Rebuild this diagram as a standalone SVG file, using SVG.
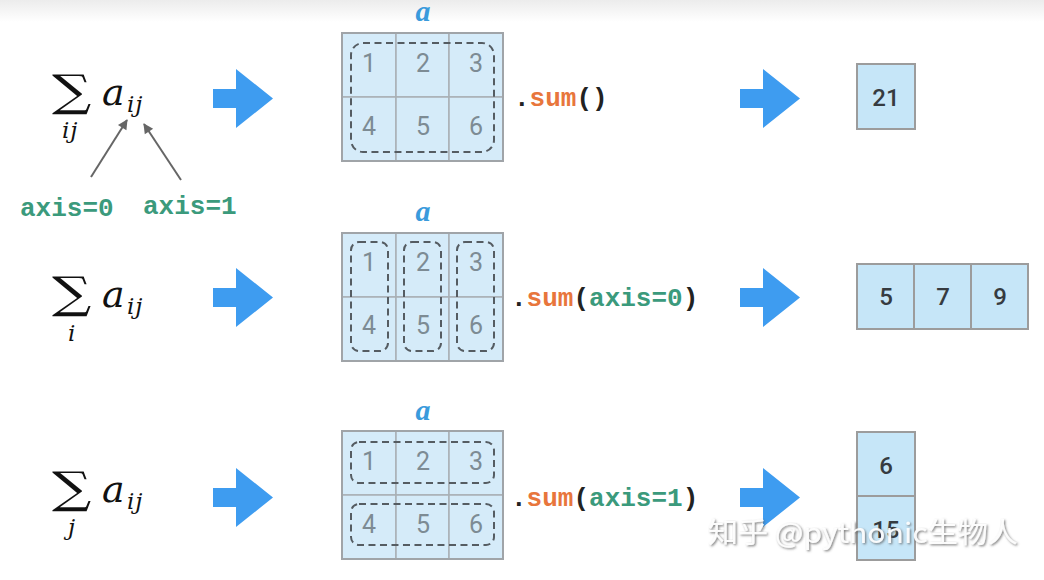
<svg xmlns="http://www.w3.org/2000/svg" width="1044" height="580" viewBox="0 0 1044 580">
<defs>
<linearGradient id="topbg" x1="0" y1="0" x2="0" y2="1">
<stop offset="0" stop-color="#ececec"/>
<stop offset="1" stop-color="#ffffff"/>
</linearGradient>
<marker id="ah" viewBox="0 0 10 10" refX="9" refY="5" markerWidth="11" markerHeight="10" markerUnits="userSpaceOnUse" orient="auto" overflow="visible">
<path d="M0,0 L10,5 L0,10 z" fill="#666"/>
</marker>
<filter id="wshadow" x="-5%" y="-20%" width="110%" height="150%">
<feDropShadow dx="1.2" dy="1.2" stdDeviation="0.8" flood-color="#555" flood-opacity="0.85"/>
</filter>
</defs>
<style>
.sig{font-family:"DejaVu Serif","Liberation Serif",serif;font-size:44px;fill:#111}
.ma{font-family:"DejaVu Serif","Liberation Serif",serif;font-style:italic;font-size:38px;fill:#111}
.ms{font-family:"DejaVu Serif","Liberation Serif",serif;font-style:italic;font-size:23px;fill:#111}
.code{font-family:"Liberation Mono","DejaVu Sans Mono",monospace;font-weight:bold;font-size:26px;fill:#222}
.or{fill:#e8763c}
.gr{fill:#3b9a7c}
.lbl{font-family:"Liberation Serif","DejaVu Serif",serif;font-style:italic;font-weight:bold;font-size:30px;fill:#3a9bdc;text-anchor:middle}
.cell{fill:#d5ebf9;stroke:#a9b0b5;stroke-width:1.5}
.gd{font-family:Roboto,"Liberation Sans",sans-serif;font-size:25px;fill:#7d8b94;text-anchor:middle}
.dash{fill:none;stroke:#555c62;stroke-width:2;stroke-dasharray:7 4.5}
.res{fill:#c6e6f8;stroke:#9c9c9c;stroke-width:2}
.rt{font-family:Roboto,"Liberation Sans",sans-serif;font-weight:500;font-size:24px;fill:#363b40;text-anchor:middle}
.bar{fill:#3e9cf0}
.ptr{stroke:#666;stroke-width:2;fill:none}
.wm{font-family:"Noto Sans CJK SC","Noto Sans",sans-serif;font-size:28px;fill:#ffffff;fill-opacity:0.92}
</style>
<rect x="0" y="0" width="1044" height="580" fill="#ffffff"/>
<rect x="0" y="0" width="1044" height="22" fill="url(#topbg)"/>

<g id="formula1">
<text class="sig" transform="translate(52,106) scale(1.25,1)">∑</text>
<text class="ma" x="102" y="105">a</text>
<text class="ms" x="127" y="112" letter-spacing="1">ij</text>
<text class="ms" x="62" y="138" letter-spacing="1">ij</text>
</g>
<g id="formula2">
<text class="sig" transform="translate(52,308) scale(1.25,1)">∑</text>
<text class="ma" x="102" y="307">a</text>
<text class="ms" x="127" y="314" letter-spacing="1">ij</text>
<text class="ms" x="68" y="341">i</text>
</g>
<g id="formula3">
<text class="sig" transform="translate(52,503) scale(1.25,1)">∑</text>
<text class="ma" x="102" y="502">a</text>
<text class="ms" x="127" y="509" letter-spacing="1">ij</text>
<text class="ms" x="68" y="535">j</text>
</g>

<g id="axis-labels">
<text class="code gr" x="20" y="216">axis=0</text>
<text class="code gr" x="143" y="214">axis=1</text>
</g>

<g id="grid1">
<text class="lbl" x="423" y="21">a</text>
<rect class="cell" x="342" y="33" width="54" height="64"/>
<rect class="cell" x="396" y="33" width="53" height="64"/>
<rect class="cell" x="449" y="33" width="54" height="64"/>
<rect class="cell" x="342" y="97" width="54" height="64"/>
<rect class="cell" x="396" y="97" width="53" height="64"/>
<rect class="cell" x="449" y="97" width="54" height="64"/>
<rect x="342" y="33" width="161" height="128" fill="none" stroke="#a0a4a8" stroke-width="2"/>
<text class="gd" x="369" y="72">1</text><text class="gd" x="423" y="72">2</text><text class="gd" x="476" y="72">3</text>
<text class="gd" x="369" y="135">4</text><text class="gd" x="423" y="135">5</text><text class="gd" x="476" y="135">6</text>
<rect class="dash" x="351" y="43" width="143" height="109" rx="12"/>
<text class="code" x="514" y="106">.<tspan class="or">sum</tspan>()</text>
</g>

<g id="grid2">
<text class="lbl" x="423" y="221">a</text>
<rect class="cell" x="342" y="233" width="54" height="64"/>
<rect class="cell" x="396" y="233" width="53" height="64"/>
<rect class="cell" x="449" y="233" width="54" height="64"/>
<rect class="cell" x="342" y="297" width="54" height="64"/>
<rect class="cell" x="396" y="297" width="53" height="64"/>
<rect class="cell" x="449" y="297" width="54" height="64"/>
<rect x="342" y="233" width="161" height="128" fill="none" stroke="#a0a4a8" stroke-width="2"/>
<text class="gd" x="369" y="271">1</text><text class="gd" x="423" y="271">2</text><text class="gd" x="476" y="271">3</text>
<text class="gd" x="369" y="334">4</text><text class="gd" x="423" y="334">5</text><text class="gd" x="476" y="334">6</text>
<rect class="dash" x="351" y="242" width="37" height="109" rx="8"/>
<rect class="dash" x="404" y="242" width="37" height="109" rx="8"/>
<rect class="dash" x="457" y="242" width="37" height="109" rx="8"/>
<text class="code" x="511" y="306">.<tspan class="or">sum</tspan>(<tspan class="gr">axis=0</tspan>)</text>
</g>

<g id="grid3">
<text class="lbl" x="423" y="420">a</text>
<rect class="cell" x="342" y="431" width="54" height="64"/>
<rect class="cell" x="396" y="431" width="53" height="64"/>
<rect class="cell" x="449" y="431" width="54" height="64"/>
<rect class="cell" x="342" y="495" width="54" height="64"/>
<rect class="cell" x="396" y="495" width="53" height="64"/>
<rect class="cell" x="449" y="495" width="54" height="64"/>
<rect x="342" y="431" width="161" height="128" fill="none" stroke="#a0a4a8" stroke-width="2"/>
<text class="gd" x="369" y="470">1</text><text class="gd" x="423" y="470">2</text><text class="gd" x="476" y="470">3</text>
<text class="gd" x="369" y="533">4</text><text class="gd" x="423" y="533">5</text><text class="gd" x="476" y="533">6</text>
<rect class="dash" x="351" y="442" width="143" height="41" rx="8"/>
<rect class="dash" x="351" y="504" width="143" height="41" rx="8"/>
<text class="code" x="511" y="506">.<tspan class="or">sum</tspan>(<tspan class="gr">axis=1</tspan>)</text>
</g>

<g id="result1">
<rect class="res" x="857" y="64" width="58" height="65"/>
<text class="rt" x="886" y="106">21</text>
</g>
<g id="result2">
<rect class="res" x="857" y="264" width="57" height="65"/>
<rect class="res" x="914" y="264" width="57" height="65"/>
<rect class="res" x="971" y="264" width="57" height="65"/>
<text class="rt" x="886" y="305">5</text>
<text class="rt" x="943" y="305">7</text>
<text class="rt" x="1000" y="305">9</text>
</g>
<g id="result3">
<rect class="res" x="857" y="432" width="58" height="64"/>
<rect class="res" x="857" y="496" width="58" height="64"/>
<text class="rt" x="886" y="474">6</text>
<text class="rt" x="886" y="538">15</text>
</g>

<g id="connectors">
<line class="ptr" x1="91" y1="177" x2="127" y2="120" marker-end="url(#ah)"/>
<line class="ptr" x1="181" y1="180" x2="144" y2="124" marker-end="url(#ah)"/>
<polygon class="bar" points="213,89 236,89 236,69 273,98.5 236,128 236,108 213,108"/>
<polygon class="bar" points="213,288 236,288 236,268 273,297.5 236,327 236,307 213,307"/>
<polygon class="bar" points="213,488 236,488 236,468 273,497.5 236,527 236,507 213,507"/>
<polygon class="bar" points="740,89 763,89 763,69 800,98.5 763,128 763,108 740,108"/>
<polygon class="bar" points="740,288 763,288 763,268 800,297.5 763,327 763,307 740,307"/>
<polygon class="bar" points="740,488 763,488 763,468 800,497.5 763,527 763,507 740,507"/>
</g>

<g id="watermark" filter="url(#wshadow)">
<text class="wm" x="708" y="543" textLength="310" lengthAdjust="spacingAndGlyphs">知乎 @pythonic生物人</text>
</g>
</svg>
